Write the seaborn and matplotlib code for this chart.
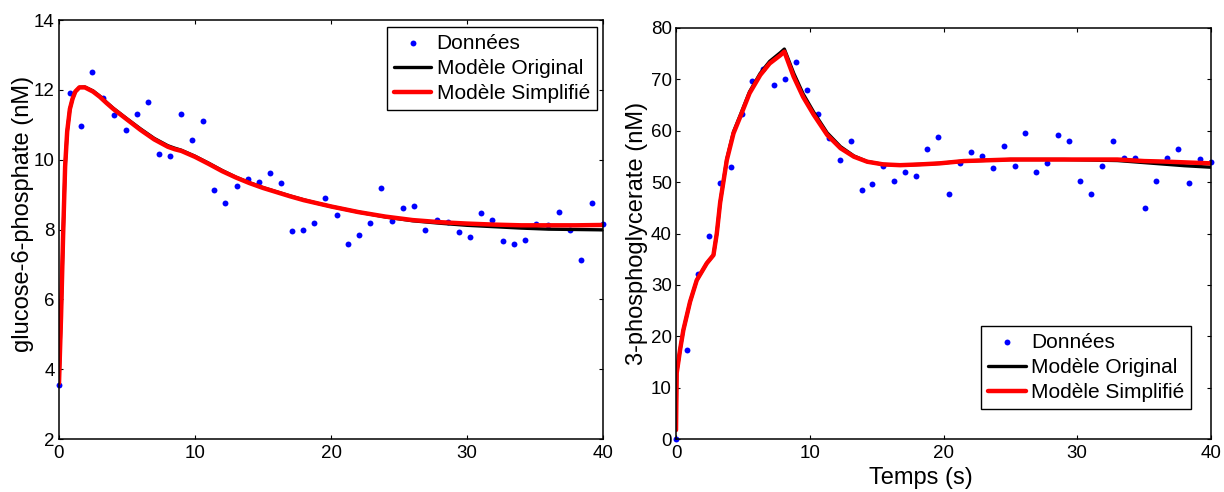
import numpy as np
import pandas as pd
import matplotlib
matplotlib.use("Agg")
import matplotlib.pyplot as plt
import seaborn as sns

# Sampling instants of the measurements (s), shared by both metabolites
temps = [0.0, 0.82, 1.63, 2.45, 3.27, 4.08, 4.9, 5.71, 6.53, 7.35,
         8.16, 8.98, 9.8, 10.61, 11.43, 12.24, 13.06, 13.88, 14.69, 15.51,
         16.33, 17.14, 17.96, 18.78, 19.59, 20.41, 21.22, 22.04, 22.86, 23.67,
         24.49, 25.31, 26.12, 26.94, 27.76, 28.57, 29.39, 30.2, 31.02, 31.84,
         32.65, 33.47, 34.29, 35.1, 35.92, 36.73, 37.55, 38.37, 39.18, 40.0]

# Measured glucose-6-phosphate (nM)
g6p_donnees = [3.55, 11.9, 10.97, 12.5, 11.76, 11.27, 10.85, 11.3, 11.64, 10.16,
               10.1, 11.3, 10.55, 11.1, 9.13, 8.76, 9.26, 9.45, 9.37, 9.63,
               9.32, 7.95, 8.0, 8.2, 8.9, 8.42, 7.58, 7.85, 8.2, 9.2,
               8.23, 8.61, 8.67, 8.0, 8.27, 8.22, 7.94, 7.78, 8.46, 8.27,
               7.67, 7.58, 7.7, 8.15, 8.12, 8.5, 7.98, 7.13, 8.76, 8.15]

# Measured 3-phosphoglycerate (nM)
pga_donnees = [0.0, 17.3, 32.05, 39.5, 49.8, 53.0, 63.26, 69.75, 72.0, 68.85,
               70.1, 73.3, 67.9, 63.2, 58.6, 54.4, 58.0, 48.5, 49.6, 53.2,
               50.2, 51.9, 51.25, 56.5, 58.8, 47.75, 53.7, 55.8, 55.1, 52.8,
               57.1, 53.2, 59.5, 51.9, 53.7, 59.2, 58.0, 50.2, 47.6, 53.2,
               58.0, 54.6, 54.7, 44.96, 50.2, 54.6, 56.4, 49.9, 54.5, 53.85]

# Simulated glucose-6-phosphate: original and simplified models
t_g6p = [0.0, 0.15, 0.3, 0.45, 0.6, 0.8, 1.0, 1.2, 1.5, 1.9,
         2.5, 3.0, 3.5, 4.0, 5.0, 6.0, 7.0, 8.0, 8.5, 9.0,
         10.0, 11.0, 12.0, 13.0, 14.0, 15.0, 16.0, 17.0, 18.0, 19.0,
         20.0, 22.0, 24.0, 26.0, 28.0, 30.0, 32.0, 34.0, 36.0, 38.0, 40.0]
g6p_original = [3.6, 5.5, 7.8, 9.8, 10.8, 11.45, 11.75, 11.95, 12.07, 12.08,
                11.97, 11.82, 11.64, 11.47, 11.17, 10.88, 10.61, 10.4, 10.33, 10.27,
                10.1, 9.9, 9.69, 9.5, 9.34, 9.2, 9.08, 8.96, 8.85, 8.75,
                8.66, 8.5, 8.36, 8.25, 8.18, 8.12, 8.08, 8.04, 8.01, 8.0, 7.99]
g6p_simplifie = [3.6, 5.5, 7.8, 9.8, 10.8, 11.45, 11.75, 11.95, 12.07, 12.07,
                 11.95, 11.8, 11.62, 11.45, 11.15, 10.85, 10.58, 10.37, 10.3, 10.25,
                 10.08, 9.88, 9.67, 9.49, 9.33, 9.19, 9.07, 8.95, 8.84, 8.75,
                 8.66, 8.5, 8.37, 8.27, 8.21, 8.17, 8.14, 8.12, 8.12, 8.12, 8.13]

# Simulated 3-phosphoglycerate: original and simplified models
t_pga = [0.0, 0.05, 0.3, 0.55, 1.05, 1.55, 2.3, 2.8, 3.05, 3.3,
         3.8, 4.3, 4.8, 5.5, 6.3, 7.0, 7.8, 8.1, 8.8, 9.5,
         10.3, 11.3, 12.3, 13.3, 14.3, 15.5, 16.75, 18.25, 19.7, 21.5,
         25.0, 29.0, 33.0, 35.0, 36.5, 38.0, 40.0]
pga_original = [1.75, 12.8, 17.3, 21.2, 26.7, 30.9, 34.2, 35.8, 40.0, 46.0,
                54.5, 59.8, 63.0, 67.6, 71.2, 73.5, 75.2, 75.9, 71.2, 67.2,
                63.6, 59.6, 56.9, 55.1, 54.0, 53.45, 53.3, 53.45, 53.65, 54.1,
                54.4, 54.4, 54.2, 53.8, 53.5, 53.2, 52.9]
pga_simplifie = [1.75, 12.8, 17.3, 21.2, 26.7, 30.9, 34.2, 35.8, 40.0, 46.0,
                 54.3, 59.5, 62.7, 67.3, 70.85, 73.1, 74.7, 75.4, 70.5, 66.6,
                 63.1, 59.2, 56.6, 54.95, 53.97, 53.45, 53.3, 53.45, 53.65, 54.1,
                 54.4, 54.4, 54.4, 54.1, 54.0, 53.85, 53.65]

x_ticks = [0, 10, 20, 30, 40]
g6p_ticks = [2, 4, 6, 8, 10, 12, 14]
pga_ticks = [0, 10, 20, 30, 40, 50, 60, 70, 80]

sns.set_theme(style="ticks")
plt.rcParams["font.family"] = ["Liberation Sans", "DejaVu Sans"]
plt.rcParams.update({
    "text.color": "black",
    "axes.labelcolor": "black",
    "axes.edgecolor": "black",
    "axes.linewidth": 1.1,
    "xtick.color": "black",
    "ytick.color": "black",
    "xtick.direction": "in",
    "ytick.direction": "in",
    "xtick.top": True,
    "ytick.right": True,
    "xtick.major.size": 3,
    "ytick.major.size": 3,
    "xtick.major.width": 0.8,
    "ytick.major.width": 0.8,
    "xtick.labelsize": 13.5,
    "ytick.labelsize": 13.5,
    "xtick.major.pad": 4,
    "ytick.major.pad": 3,
})

W, H = 1224, 492
fig = plt.figure(figsize=(W / 100, H / 100), dpi=100)
ax1 = fig.add_axes([59 / W, 1 - 439 / H, 544 / W, 419 / H])
ax2 = fig.add_axes([676 / W, 1 - 439 / H, 535 / W, 411 / H])


def draw_panel(ax, y_data, t_mod, y_orig, y_simp):
    sns.scatterplot(x=temps, y=y_data, ax=ax, color="#0000ff", s=18,
                    linewidth=0, label="Données", clip_on=False)
    sns.lineplot(x=t_mod, y=y_orig, ax=ax, color="black", lw=2.4,
                 estimator=None, sort=False, label="Modèle Original")
    sns.lineplot(x=t_mod, y=y_simp, ax=ax, color="red", lw=3.2,
                 estimator=None, sort=False, label="Modèle Simplifié")
    ax.set_xlim(0, 40)
    ax.set_xticks(x_ticks)
    ax.set_xticklabels([str(v) for v in x_ticks])
    for s in ax.spines.values():
        s.set_visible(True)
        s.set_color("black")
    ax.grid(False)


draw_panel(ax1, g6p_donnees, t_g6p, g6p_original, g6p_simplifie)
ax1.set_ylim(2, 14)
ax1.set_yticks(g6p_ticks)
ax1.set_yticklabels([str(v) for v in g6p_ticks])
ax1.set_xlabel("")
ax1.set_ylabel("glucose-6-phosphate (nM)", fontsize=17)
ax1.yaxis.set_label_coords(-0.046, 0.537)

draw_panel(ax2, pga_donnees, t_pga, pga_original, pga_simplifie)
ax2.set_ylim(0, 80)
ax2.set_yticks(pga_ticks)
ax2.set_yticklabels([str(v) for v in pga_ticks])
ax2.set_xlabel("Temps (s)", fontsize=17)
ax2.xaxis.set_label_coords(0.457, -0.068)
ax2.set_ylabel("3-phosphoglycerate (nM)", fontsize=17)
ax2.yaxis.set_label_coords(-0.052, 0.501)

legend_kw = dict(frameon=True, fancybox=False, edgecolor="black", framealpha=1,
                 fontsize=15, handlelength=1.8, handletextpad=0.25,
                 labelspacing=0.3, borderpad=0.33, borderaxespad=0,
                 scatterpoints=1, bbox_transform=fig.transFigure)
leg1 = ax1.legend(loc="upper right", bbox_to_anchor=(596.7 / W, 1 - 26.7 / H), **legend_kw)
leg2 = ax2.legend(loc="lower right", bbox_to_anchor=(1191 / W, 1 - 409.3 / H), **legend_kw)
for leg in (leg1, leg2):
    leg.get_frame().set_linewidth(1.0)

fig.savefig("out.png", dpi=100, facecolor="white")
